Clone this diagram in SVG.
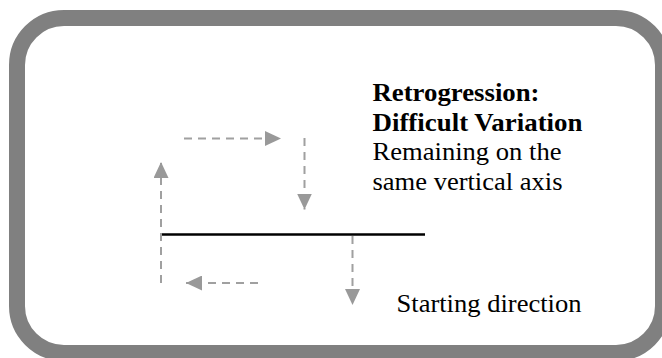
<svg xmlns="http://www.w3.org/2000/svg" width="662" height="358" viewBox="0 0 662 358">
  <style>
    .frame { fill: #ffffff; stroke: #808080; stroke-width: 16; }
    .dash { stroke: #a0a0a0; stroke-width: 2; stroke-dasharray: 8 6; fill: none; }
    .axis { stroke: #000000; stroke-width: 2.5; }
    .bold { font-family: "Liberation Serif", "Times New Roman", serif; font-size: 25.5px; font-weight: bold; fill: #000; }
    .reg { font-family: "Liberation Serif", "Times New Roman", serif; font-size: 25.5px; fill: #000; }
  </style>
  <defs>
    <marker id="arr" viewBox="0 0 16 15" markerWidth="16" markerHeight="15" markerUnits="userSpaceOnUse" refX="16" refY="7.5" orient="auto">
      <path d="M0,0 L16,7.5 L0,15 z" fill="#999999"/>
    </marker>
  </defs>
  <rect class="frame" x="17" y="18" width="646" height="335" rx="47" ry="47"/>
  <g id="axis-line">
    <line class="axis" x1="161" y1="234.5" x2="425" y2="234.5"/>
  </g>
  <g id="connectors">
    <line class="dash" x1="161" y1="283" x2="161" y2="162" marker-end="url(#arr)"/>
    <line class="dash" x1="184" y1="138.5" x2="281" y2="138.5" marker-end="url(#arr)"/>
    <line class="dash" x1="304.5" y1="138" x2="304.5" y2="209.5" marker-end="url(#arr)"/>
    <line class="dash" x1="352.5" y1="236" x2="352.5" y2="305" marker-end="url(#arr)"/>
    <line class="dash" x1="258" y1="283" x2="186" y2="283" marker-end="url(#arr)"/>
  </g>
  <g id="label-title">
    <text class="bold" x="372.5" y="101" textLength="167" lengthAdjust="spacingAndGlyphs">Retrogression:</text>
    <text class="bold" x="372.5" y="130.5" textLength="210" lengthAdjust="spacingAndGlyphs">Difficult Variation</text>
    <text class="reg" x="372.5" y="160" textLength="189" lengthAdjust="spacingAndGlyphs">Remaining on the</text>
    <text class="reg" x="372.5" y="189.5" textLength="190" lengthAdjust="spacingAndGlyphs">same vertical axis</text>
  </g>
  <g id="label-start">
    <text class="reg" x="396.5" y="311.5" textLength="185" lengthAdjust="spacingAndGlyphs">Starting direction</text>
  </g>
</svg>
